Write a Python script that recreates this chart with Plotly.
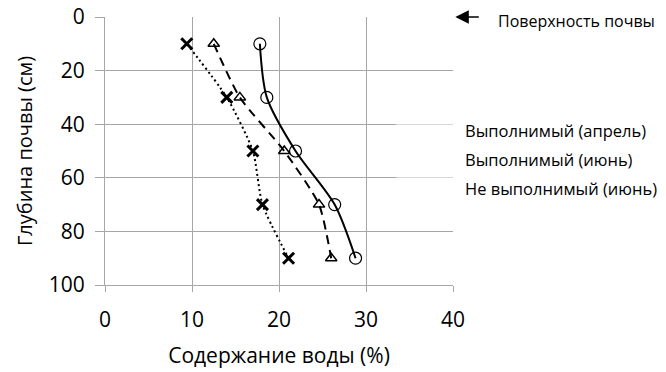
import plotly.graph_objects as go

depth = [10, 30, 50, 70, 90]
water_april = [17.8, 18.6, 21.9, 26.4, 28.8]
water_june = [12.5, 15.5, 20.6, 24.6, 26.0]
water_not_june = [9.4, 14.0, 17.0, 18.1, 21.1]

series_names = ["Выполнимый (апрель)", "Выполнимый (июнь)", "Не выполнимый (июнь)"]
x_ticks = [0, 10, 20, 30, 40]
y_ticks = [0, 20, 40, 60, 80, 100]
x_title = "Содержание воды (%)"
y_title = "Глубина почвы (см)"
surface_label = "Поверхность почвы"

FONT = "Open Sans"
GRID = "#a6a6a6"

PW, PH = 347.7, 267.7   # plot area size in px
PX0, PY0 = 105, 17.3    # plot area top-left on the page

fig = go.Figure()
fig.add_trace(go.Scatter(
    x=water_april, y=depth, name=series_names[0], mode="lines+markers",
    line=dict(color="black", width=2, shape="spline", smoothing=0.8),
    marker=dict(symbol="circle-open", size=12, color="black", line=dict(width=1.2)),
    showlegend=False))
fig.add_trace(go.Scatter(
    x=water_june, y=depth, name=series_names[1], mode="lines+markers",
    line=dict(color="black", width=2, dash="9px,6px", shape="spline", smoothing=0.6),
    marker=dict(symbol="triangle-up-open", size=10, color="black", line=dict(width=1.5)),
    showlegend=False))
fig.add_trace(go.Scatter(
    x=water_not_june, y=depth, name=series_names[2], mode="lines+markers",
    line=dict(color="black", width=2, dash="2px,3px", shape="spline", smoothing=0.6),
    marker=dict(symbol="x-thin-open", size=11, color="black", line=dict(width=3, color="black")),
    showlegend=False))

fig.update_xaxes(
    range=[0, 40], tickvals=x_ticks, ticktext=[str(v) for v in x_ticks],
    showgrid=True, gridcolor=GRID, gridwidth=1, zeroline=False,
    showline=True, linecolor=GRID, linewidth=1, mirror=False,
    ticks="outside", ticklen=6, tickcolor=GRID, automargin=False,
    ticklabelstandoff=10,
    tickfont=dict(family=FONT, size=21, color="black"),
    title=dict(text=x_title, font=dict(family=FONT, size=21, color="black"), standoff=16),
)
fig.update_yaxes(
    range=[100, 0], tickvals=y_ticks, ticktext=[str(v) for v in y_ticks],
    showgrid=True, gridcolor=GRID, gridwidth=1, zeroline=False,
    showline=True, linecolor=GRID, linewidth=1, automargin=False,
    ticks="outside", ticklen=9, tickcolor=GRID, ticklabelstandoff=6,
    tickfont=dict(family=FONT, size=21, color="black"),
    title=dict(text=y_title, font=dict(family=FONT, size=20, color="black"), standoff=10),
)

# semi-transparent legend box that lightens the grid beneath it
fig.add_shape(type="rect", xref="paper", yref="paper",
              x0=(396 - PX0) / PW, x1=(662 - PX0) / PW,
              y0=1 - (217 - PY0) / PH, y1=1 - (105 - PY0) / PH,
              fillcolor="rgba(255,255,255,0.55)", line=dict(width=0), layer="above")

for i, name in enumerate(series_names):
    fig.add_annotation(xref="paper", yref="paper",
                       x=(463 - PX0) / PW, y=1 - (131 + 29 * i - PY0) / PH,
                       text=name, showarrow=False, xanchor="left", yanchor="middle",
                       font=dict(family=FONT, size=16.5, color="black"))

# surface arrow
fig.add_annotation(xref="paper", yref="y", x=(455 - PX0) / PW, y=0,
                   ax=25, ay=0,
                   text="", showarrow=True, arrowhead=2, arrowsize=1.8, arrowwidth=1.5,
                   arrowcolor="black")
fig.add_annotation(xref="paper", yref="paper", x=(497 - PX0) / PW, y=1 - (21.5 - PY0) / PH,
                   text=surface_label, showarrow=False, xanchor="left", yanchor="middle",
                   borderpad=0,
                   font=dict(family=FONT, size=16, color="black"))

fig.update_layout(
    width=666, height=372,
    margin=dict(l=105, r=213, t=17, b=87, autoexpand=False),
    plot_bgcolor="white", paper_bgcolor="white",
    showlegend=False,
)

fig.write_html("out.html", config={"displayModeBar": False},
               post_script="document.body.style.margin='0';")
